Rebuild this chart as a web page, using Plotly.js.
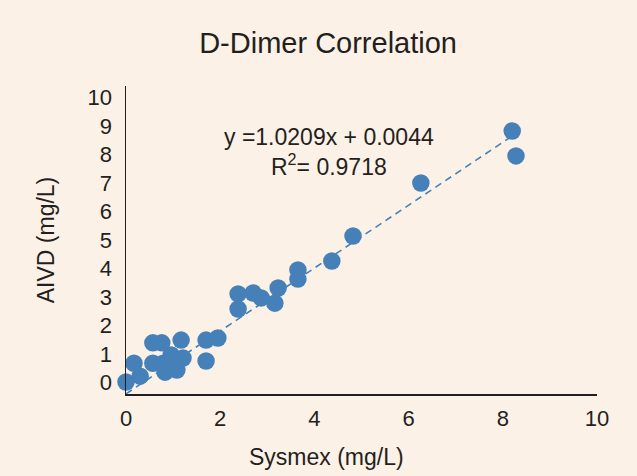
<!DOCTYPE html>
<html>
<head>
<meta charset="utf-8">
<script src="https://cdn.plot.ly/plotly-3.0.1.min.js"></script>
<style>
  html, body { margin: 0; padding: 0; background: #fcf1e6; }
  #chart { width: 637px; height: 476px; }
</style>
</head>
<body>
<div id="chart"></div>
<script>
// Data
const sysmex = [0.00, 0.30, 0.17, 0.57, 0.76, 1.17, 0.57, 0.79, 0.96, 0.83, 1.08, 1.21, 1.00,
                1.70, 1.95, 1.70, 2.38, 2.38, 2.70, 2.87, 3.16, 3.23, 3.65, 3.65, 4.37, 4.82,
                6.26, 8.20, 8.28];
const aivd   = [0.39, 0.58, 1.00, 1.66, 1.66, 1.75, 1.00, 1.00, 1.27, 0.71, 0.78, 1.17, 1.04,
                1.75, 1.82, 1.07, 3.25, 2.76, 3.28, 3.12, 2.95, 3.44, 4.03, 3.73, 4.32, 5.13,
                6.85, 8.54, 7.73];
const slope = 1.0209;
const intercept = 0.0044;
const rSquared = 0.9718;
const yTickLabels = ['0','1','2','3','4','5','6','7','8','9','10'];
const xTickLabels = ['0','2','4','6','8','10'];
const xTickValues = [0, 2, 4, 6, 8, 10];
const xTitle = 'Sysmex (mg/L)';
const yTitle = 'AIVD (mg/L)';
const chartTitle = 'D-Dimer Correlation';

const trendX = [0, Math.max(...sysmex)];
const trendY = trendX.map(v => slope * v + intercept);

const ink = '#231f20';
const blue = '#4581b8';
const bg = '#fcf1e6';

const traces = [
  {
    x: trendX, y: trendY, type: 'scatter', mode: 'lines',
    line: { color: blue, width: 1.6, dash: '7px,5px' },
    hoverinfo: 'skip', showlegend: false, cliponaxis: false
  },
  {
    x: sysmex, y: aivd, type: 'scatter', mode: 'markers',
    marker: { color: blue, size: 17.5, line: { width: 0 } },
    showlegend: false, cliponaxis: false
  }
];

// The reference's y tick labels sit slightly compressed around the middle of the axis
const yTickVals = yTickLabels.map((_, i) => 5 + (i - 5) * 0.925);

const layout = {
  width: 637, height: 476,
  paper_bgcolor: bg, plot_bgcolor: bg,
  margin: { l: 126, r: 40, t: 86, b: 82 },
  font: { family: 'Liberation Sans, Arial, sans-serif', color: ink },
  title: {
    text: chartTitle,
    font: { size: 29, color: ink },
    x: 0.515, xanchor: 'center',
    y: 1 - 43 / 476, yanchor: 'middle'
  },
  xaxis: {
    range: [0, 10],
    tickvals: xTickValues, ticktext: xTickLabels,
    tickfont: { size: 22, color: ink },
    ticks: '', ticklabelstandoff: 4,
    showgrid: false, zeroline: false,
    showline: true, linecolor: ink, linewidth: 1.5,
    fixedrange: true
  },
  yaxis: {
    range: [0, 10],
    tickvals: yTickVals, ticktext: yTickLabels,
    tickfont: { size: 22, color: ink },
    ticks: '', ticklabelstandoff: 8,
    showgrid: false, zeroline: false,
    showline: true, linecolor: ink, linewidth: 1.5,
    title: { text: yTitle, font: { size: 23, color: ink }, standoff: 26 },
    fixedrange: true
  },
  annotations: [
    {
      xref: 'x', yref: 'y', x: 4.31, y: 7.87,
      text: 'y =' + slope.toFixed(4) + 'x + ' + intercept.toFixed(4) +
            '<br>R<sup>2</sup>= ' + rSquared.toFixed(4),
      showarrow: false, align: 'center',
      xanchor: 'center', yanchor: 'middle',
      font: { size: 23, color: ink }
    },
    {
      xref: 'paper', yref: 'paper', x: (326 - 126) / 471, y: (394 - 457) / 308,
      text: xTitle, showarrow: false,
      xanchor: 'center', yanchor: 'middle',
      font: { size: 23, color: ink }
    }
  ]
};

Plotly.newPlot('chart', traces, layout, { displayModeBar: false, staticPlot: true });
</script>
</body>
</html>
